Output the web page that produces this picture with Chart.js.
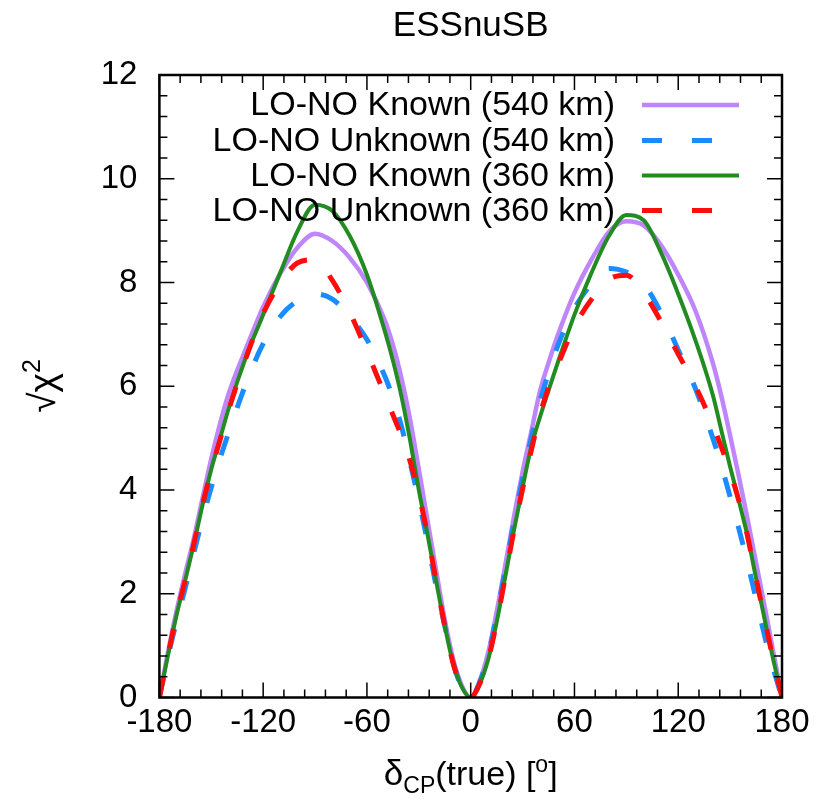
<!DOCTYPE html>
<html>
<head>
<meta charset="utf-8">
<script src="https://cdn.jsdelivr.net/npm/chart.js@4.4.1/dist/chart.umd.min.js"></script>
<style>
  html, body { margin: 0; padding: 0; background: #fff; }
  canvas { display: block; }
</style>
</head>
<body>
<canvas id="c" width="830" height="809" style="width:830px;height:809px"></canvas>
<script>
// ---------------- data ----------------
const chartTitle = "ESSnuSB";
const seriesNames = ["LO-NO Known (540 km)", "LO-NO Unknown (540 km)", "LO-NO Known (360 km)", "LO-NO Unknown (360 km)"];
const deltaCP = [-180,-175,-170,-165,-160,-155,-150,-145,-140,
                 -130,-120,-110,-100,-90,-80,-70,-60,-50,
                 -45,-40,-35,-30,-25,-20,-15,-10,-5,0,5,10,15,20,25,30,35,40,45,
                 50,60,70,80,90,100,110,120,130,140,
                 145,150,155,160,165,170,175,180];
const knownLong = [0,0.88,1.68,2.4,3.08,3.85,4.6,5.27,5.85,
                   6.72,7.53,8.18,8.68,8.94,8.8,8.48,8.0,7.3,
                   6.8,6.15,5.35,4.4,3.42,2.45,1.5,0.72,0.22,0,0.3,0.85,1.65,2.55,3.48,4.35,5.12,5.9,6.45,
                   6.95,7.8,8.45,8.98,9.18,9.1,8.72,8.15,7.45,6.45,
                   5.8,5.05,4.27,3.45,2.6,1.75,0.87,0];
const unknownLong = [0,0.8,1.47,2.12,2.8,3.45,4.05,4.6,5.1,
                     6.05,6.82,7.35,7.65,7.78,7.68,7.35,6.9,6.22,
                     5.78,5.22,4.52,3.8,3.0,2.15,1.38,0.65,0.18,0,0.28,0.8,1.58,2.47,3.38,4.22,5.0,5.7,6.25,
                     6.75,7.5,7.98,8.27,8.2,7.97,7.42,6.7,5.95,5.0,
                     4.46,3.87,3.26,2.6,1.9,1.18,0.55,0];
const knownShort = [0,0.82,1.6,2.27,2.97,3.72,4.4,4.98,5.57,
                    6.56,7.38,8.2,9.0,9.5,9.38,8.9,8.15,7.1,
                    6.5,5.8,4.95,4.0,3.15,2.25,1.38,0.64,0.19,0,0.25,0.72,1.45,2.33,3.22,4.05,4.83,5.4,5.92,
                    6.42,7.38,8.2,8.9,9.3,9.2,8.58,7.78,6.88,5.83,
                    5.14,4.45,3.8,3.12,2.3,1.5,0.72,0];
const unknownShort = [0,0.82,1.6,2.27,2.97,3.72,4.38,4.96,5.54,
                      6.54,7.4,8.0,8.38,8.44,8.04,7.43,6.67,5.86,
                      5.45,5.04,4.55,3.92,3.15,2.25,1.38,0.64,0.19,0,0.25,0.72,1.45,2.33,3.22,4.02,4.76,5.45,5.97,
                      6.38,7.15,7.68,8.06,8.14,7.8,7.25,6.62,6.0,5.25,
                      4.82,4.35,3.8,3.12,2.3,1.5,0.72,0];
const xTicks = [-180,-120,-60,0,60,120,180];
const yTicks = [0,2,4,6,8,10,12];

// ---------------- style ----------------
const FAM = '"Liberation Sans", Arial, Helvetica, sans-serif';
const FS = 33;      // tick labels
const FL = 34;      // legend
const FT = 35;      // title
const styles = [
  { color: '#bf86fb', width: 4.5, dash: [] },
  { color: '#1a8cff', width: 5, dash: [20, 30] },
  { color: '#228b22', width: 4, dash: [] },
  { color: '#ff0d0d', width: 5, dash: [20, 30] }
];
const seriesData = [knownLong, unknownLong, knownShort, unknownShort];
const drawOrder = [4, 3, 2, 1];

Chart.defaults.font.family = FAM;
Chart.defaults.color = '#000';

const datasets = seriesData.map((arr, i) => ({
  label: seriesNames[i],
  data: deltaCP.map((d, k) => ({ x: d, y: arr[k] })),
  borderColor: styles[i].color,
  borderWidth: styles[i].width,
  borderDash: styles[i].dash,
  borderCapStyle: 'butt',
  pointRadius: 0,
  fill: false,
  tension: 0.4,
  cubicInterpolationMode: 'monotone',
  order: drawOrder[i]
}));

function drawRich(ctx, parts, cx, baseY) {
  let total = 0;
  parts.forEach(p => { ctx.font = p.s + 'px ' + FAM; p.w = ctx.measureText(p.t).width; total += p.w; });
  let x = cx - total / 2;
  parts.forEach(p => { ctx.font = p.s + 'px ' + FAM; ctx.fillText(p.t, x, baseY + p.dy); x += p.w; });
}

const decor = {
  id: 'decor',
  afterDatasetsDraw(chart) {
    const ctx = chart.ctx;
    const a = chart.chartArea;
    const xs = chart.scales.x, ys = chart.scales.y;
    ctx.save();
    // ticks (inward, mirrored)
    ctx.strokeStyle = '#000';
    ctx.lineWidth = 1.5;
    ctx.beginPath();
    for (let k = 0; k <= 30; k++) {
      const px = xs.getPixelForValue(-180 + k * 12);
      const L = (k % 5 === 0) ? 15 : 8;
      ctx.moveTo(px, a.bottom); ctx.lineTo(px, a.bottom - L);
      ctx.moveTo(px, a.top); ctx.lineTo(px, a.top + L);
    }
    for (let k = 0; k <= 30; k++) {
      const py = ys.getPixelForValue(k * 0.4);
      const L = (k % 5 === 0) ? 15 : 8;
      ctx.moveTo(a.left, py); ctx.lineTo(a.left + L, py);
      ctx.moveTo(a.right, py); ctx.lineTo(a.right - L, py);
    }
    ctx.stroke();
    // frame
    ctx.lineWidth = 2.5;
    ctx.strokeRect(a.left, a.top, a.right - a.left, a.bottom - a.top);

    // legend
    const rows = [105, 140.5, 175.5, 210.5];
    ctx.fillStyle = '#000';
    ctx.font = FL + 'px ' + FAM;
    ctx.textAlign = 'right';
    ctx.textBaseline = 'middle';
    for (let i = 0; i < 4; i++) {
      ctx.fillText(seriesNames[i], 615, rows[i] + 1);
      ctx.beginPath();
      ctx.strokeStyle = styles[i].color;
      ctx.lineWidth = styles[i].width;
      ctx.lineCap = 'butt';
      ctx.setLineDash(styles[i].dash);
      ctx.moveTo(642, rows[i]);
      ctx.lineTo(739, rows[i]);
      ctx.stroke();
    }
    ctx.setLineDash([]);

    // title
    ctx.fillStyle = '#000';
    ctx.textAlign = 'center';
    ctx.textBaseline = 'middle';
    ctx.font = FT + 'px ' + FAM;
    ctx.fillText(chartTitle, (a.left + a.right) / 2, 26);

    // x axis title
    ctx.textAlign = 'left';
    ctx.textBaseline = 'alphabetic';
    drawRich(ctx, [
      { t: 'δ', s: 35, dy: 0 },
      { t: 'CP', s: 23, dy: 8 },
      { t: '(true) [', s: 34, dy: 0 },
      { t: 'o', s: 23, dy: -13 },
      { t: ']', s: 34, dy: 0 }
    ], (a.left + a.right) / 2, 785);

    // y axis title
    ctx.save();
    ctx.translate(42, 386);
    ctx.rotate(-Math.PI / 2);
    drawRich(ctx, [
      { t: '√χ', s: 37, dy: 0 },
      { t: '2', s: 25, dy: -15 }
    ], 0, 13);
    ctx.restore();

    ctx.restore();
  }
};

new Chart(document.getElementById('c'), {
  type: 'line',
  data: { datasets },
  options: {
    responsive: false,
    animation: false,
    devicePixelRatio: 1,
    layout: { padding: { left: 0, right: 48, top: 75, bottom: 0 } },
    plugins: { legend: { display: false }, tooltip: { enabled: false }, title: { display: false } },
    scales: {
      x: {
        type: 'linear', min: -180, max: 180,
        afterBuildTicks(s) { s.ticks = xTicks.map(v => ({ value: v })); },
        afterFit(s) { s.height = 111.5; },
        grid: { display: false, drawTicks: false },
        border: { display: false },
        ticks: { font: { size: FS }, color: '#000', padding: 6, maxRotation: 0, autoSkip: false }
      },
      y: {
        type: 'linear', min: 0, max: 12,
        afterBuildTicks(s) { s.ticks = yTicks.map(v => ({ value: v })); },
        afterFit(s) { s.width = 159.4; },
        grid: { display: false, drawTicks: false },
        border: { display: false },
        ticks: { font: { size: FS }, color: '#000', padding: 22, autoSkip: false }
      }
    }
  },
  plugins: [decor]
});
</script>
</body>
</html>
